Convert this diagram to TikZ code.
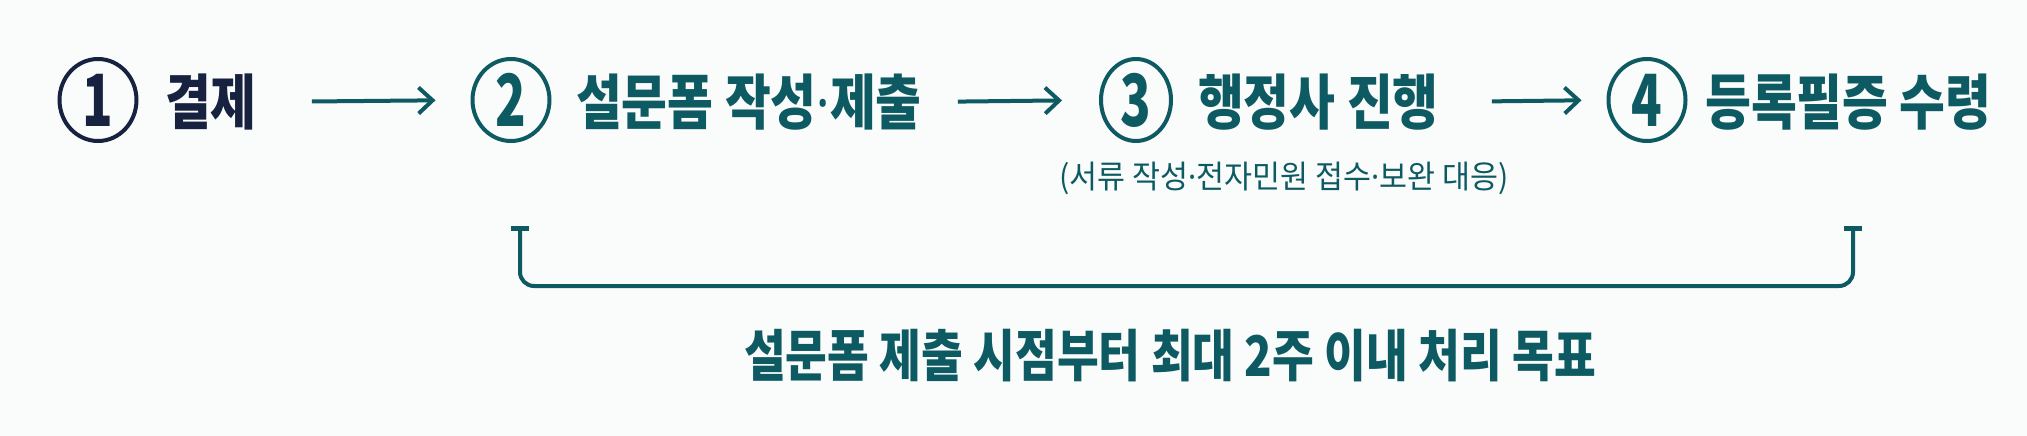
\documentclass[tikz,border=0pt]{standalone}
\usepackage{fontspec}
\usepackage{tikz}
\usetikzlibrary{arrows.meta,shapes.geometric}
\newfontfamily\kr{Noto Sans CJK KR}
\newfontfamily\latin{Noto Sans}
\newcommand{\mdot}{{\latin\mbox{·}}}
\definecolor{navy}{HTML}{16223F}
\definecolor{teal}{HTML}{0D5A62}
\definecolor{paper}{HTML}{FAFBFB}
\tikzset{
  num/.style={draw, ellipse, line width=4pt, inner sep=0pt,
    minimum width=77pt, minimum height=82pt,
    font=\kr\fontsize{72}{74}\selectfont},
  steptext/.style={anchor=west, inner sep=0pt, xscale=0.83,
    font=\kr\bfseries\fontsize{60}{64}\selectfont},
  flow/.style={teal, line width=4pt, -{Straight Barb[length=14pt,width=26pt]}},
}
\begin{document}
\begin{tikzpicture}[x=1pt,y=-1pt]
		\fill[paper] (0,0) rectangle (2027,436);

		\node[num, navy] (n1) at (98,100) {\scalebox{0.7}[1]{\bfseries 1}};
		\node[steptext, navy] (t1) at (165,102) {결제};

		\node[num, teal] (n2) at (511,100) {\scalebox{0.7}[1]{\bfseries 2}};
		\node[steptext, teal] (t2) at (576,102) {설문폼 작성\mdot 제출};

		\node[num, teal, minimum width=70pt] (n3) at (1136,100) {\scalebox{0.7}[1]{\bfseries 3}};
		\node[steptext, teal] (t3) at (1198,102) {행정사 진행};
		\node[teal, inner sep=0pt, xscale=0.95, font=\kr\fontsize{32}{34}\selectfont] (sub) at (1284,178) {(서류 작성\mdot 전자민원 접수\mdot 보완 대응)};

		\node[num, teal] (n4) at (1647,100) {\scalebox{0.7}[1]{\bfseries 4}};
		\node[steptext, teal] (t4) at (1705,102) {등록필증 수령};

		\draw[flow, shorten <=55pt, shorten >=35pt] (t1.east) -- (n2.west);
		\draw[flow, shorten <=36pt, shorten >=37pt] (t2.east) -- (n3.west);
		\draw[flow, shorten <=53pt, shorten >=25pt] (t3.east) -- (n4.west);

		% bracket
		\coordinate (bl) at (520,228);
		\coordinate (br) at (1853,228);
		\draw[teal, line width=4pt, rounded corners=14pt] (bl) -- (bl |- 0,286) -- (br |- 0,286) -- (br);
		\draw[teal, line width=5pt] ([xshift=-9pt]bl) -- ([xshift=9pt]bl);
		\draw[teal, line width=5pt] ([xshift=-9pt]br) -- ([xshift=9pt]br);

		\node[teal, inner sep=0pt, xscale=0.81, font=\kr\bfseries\fontsize{56}{60}\selectfont] (goal) at (1170,356) {설문폼 제출 시점부터 최대 2주 이내 처리 목표};
\end{tikzpicture}
\end{document}
